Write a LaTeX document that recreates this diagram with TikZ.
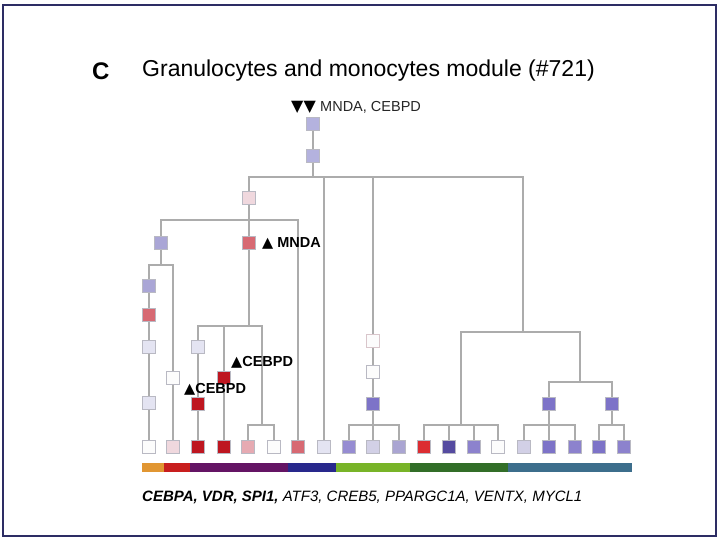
\documentclass[tikz,border=0pt]{standalone}
\usepackage{fontspec}
\setmainfont{Liberation Sans}
\newfontfamily\symf{DejaVu Sans}
\definecolor{edgegray}{RGB}{172,172,172}
\definecolor{nborder}{RGB}{185,185,195}
\definecolor{framec}{RGB}{45,45,100}
\definecolor{lavA}{RGB}{180,178,222}
\definecolor{lavB}{RGB}{170,166,214}
\definecolor{lavC}{RGB}{150,140,210}
\definecolor{lavD}{RGB}{125,115,200}
\definecolor{lavE}{RGB}{140,130,205}
\definecolor{lavF}{RGB}{210,208,230}
\definecolor{lavG}{RGB}{170,165,210}
\definecolor{slateN}{RGB}{85,75,160}
\definecolor{paleL}{RGB}{228,228,242}
\definecolor{paleP}{RGB}{240,216,222}
\definecolor{pinkR}{RGB}{215,105,115}
\definecolor{lightP}{RGB}{230,170,178}
\definecolor{darkR}{RGB}{190,22,32}
\definecolor{redN}{RGB}{220,45,50}
\definecolor{whiteN}{RGB}{252,252,252}
\definecolor{barO}{RGB}{225,150,50}
\definecolor{barR}{RGB}{200,30,30}
\definecolor{barP}{RGB}{100,20,100}
\definecolor{barN}{RGB}{40,40,140}
\definecolor{barG}{RGB}{120,180,40}
\definecolor{barDG}{RGB}{50,110,40}
\definecolor{barB}{RGB}{60,110,140}
\tikzset{
  sq/.style={draw=nborder, line width=0.8pt, minimum size=13pt, inner sep=0pt, fill=#1},
  edge/.style={draw=edgegray, line width=1.8pt},
  lab/.style={anchor=west, inner sep=0pt, font=\fontsize{14.5}{16}\selectfont\bfseries}
}
\begin{document}
\begin{tikzpicture}[x=1pt,y=-1pt]
\useasboundingbox (0,0) rectangle (720,540);
\fill[white] (0,0) rectangle (720,540);
\draw[framec, line width=2.5pt] (3,5) rectangle (716,536);

% title
\node[anchor=west, inner sep=0pt, font=\fontsize{24}{26}\selectfont\bfseries] (tc) at (92,71) {C};
\node[anchor=west, inner sep=0pt, font=\fontsize{23}{26}\selectfont] (tt) at (142,71) {Granulocytes and monocytes module (\#721)};

% internal nodes
\node[sq=lavA] (r0) at (313,124) {};
\node[sq=lavA] (r1) at (313,156) {};
\node[sq=paleP] (a) at (249,198) {};
\node[sq=lavB] (b) at (161,243) {};
\node[sq=pinkR] (m) at (249,243) {};
\node[sq=lavB] (b1) at (149,286) {};
\node[sq=pinkR] (b2) at (149,315) {};
\node[sq=paleL] (b3) at (149,347) {};
\node[sq=paleL] (b4) at (149,403) {};
\node[sq=whiteN] (c1) at (173,378) {};
\node[sq=paleL] (d1) at (198,347) {};
\node[sq=darkR] (d2) at (198,404) {};
\node[sq=darkR] (e1) at (224,378) {};
\node[sq=whiteN, draw=paleP!80!gray] (g1) at (373,341) {};
\node[sq=whiteN] (g2) at (373,372) {};
\node[sq=lavD] (g3) at (373,404) {};
\node[sq=lavD] (h1) at (549,404) {};
\node[sq=lavD] (h2) at (612,404) {};

% leaves
\foreach \n/\x/\c in {L1/149/whiteN, L2/173/paleP, L3/198/darkR, L4/224/darkR,
  L5/248/lightP, L6/274/whiteN, L7/298/pinkR, L8/324/paleL, L9/349/lavC,
  L10/373/lavF, L11/399/lavG, L12/424/redN, L13/449/slateN, L14/474/lavE,
  L15/498/whiteN, L16/524/lavF, L17/549/lavD, L18/575/lavE, L19/599/lavD, L20/624/lavE}
  \node[sq=\c] (\n) at (\x,447) {};

% junctions
\coordinate (J0) at (313,177);
\coordinate (J1) at (249,220);
\coordinate (J2) at (161,265);
\coordinate (J3) at (249,326);
\coordinate (J4) at (262,425);
\coordinate (J5) at (523,332);
\coordinate (J6) at (373,425);
\coordinate (J7) at (461,425);
\coordinate (J8) at (580,382);
\coordinate (J9) at (549,425);
\coordinate (J10) at (612,425);

% edges
\draw[edge] (r0) -- (r1);
\draw[edge] (r1) -- (J0);
\draw[edge] (J0) -| (a);
\draw[edge] (J0) -| (L8);
\draw[edge] (J0) -| (g1);
\draw[edge] (J0) -| (J5);
\draw[edge] (a) -- (J1);
\draw[edge] (J1) -| (b);
\draw[edge] (J1) -- (m);
\draw[edge] (J1) -| (L7);
\draw[edge] (b) -- (J2);
\draw[edge] (J2) -| (b1);
\draw[edge] (J2) -| (c1);
\draw[edge] (b1) -- (b2);
\draw[edge] (b2) -- (b3);
\draw[edge] (b3) -- (b4);
\draw[edge] (b4) -- (L1);
\draw[edge] (c1) -- (L2);
\draw[edge] (m) -- (J3);
\draw[edge] (J3) -| (d1);
\draw[edge] (J3) -| (e1);
\draw[edge] (J3) -| (J4);
\draw[edge] (d1) -- (d2);
\draw[edge] (d2) -- (L3);
\draw[edge] (e1) -- (L4);
\draw[edge] (J4) -| (L5);
\draw[edge] (J4) -| (L6);
\draw[edge] (g1) -- (g2);
\draw[edge] (g2) -- (g3);
\draw[edge] (g3) -- (J6);
\draw[edge] (J6) -| (L9);
\draw[edge] (J6) -- (L10);
\draw[edge] (J6) -| (L11);
\draw[edge] (J5) -| (J7);
\draw[edge] (J5) -| (J8);
\draw[edge] (J7) -| (L12);
\draw[edge] (J7) -| (L13);
\draw[edge] (J7) -| (L14);
\draw[edge] (J7) -| (L15);
\draw[edge] (J8) -| (h1);
\draw[edge] (J8) -| (h2);
\draw[edge] (h1) -- (J9);
\draw[edge] (J9) -| (L16);
\draw[edge] (J9) -- (L17);
\draw[edge] (J9) -| (L18);
\draw[edge] (h2) -- (J10);
\draw[edge] (J10) -| (L19);
\draw[edge] (J10) -| (L20);

% labels
\node[anchor=west, inner sep=0pt, font=\fontsize{16}{18}\selectfont\symf] (lt) at (291,107) {▼▼};
\node[anchor=west, inner sep=0pt, font=\fontsize{14.5}{16}\selectfont, text=black!85] (lt2) at (320,107) {MNDA, CEBPD};
\node[lab] (lm) at (262,243) {{\symf ▲} MNDA};
\node[lab] (lc1) at (231,362) {{\symf ▲}CEBPD};
\node[lab] (lc2) at (184,389) {{\symf ▲}CEBPD};

% colour bar
\fill[barO] (142,463) rectangle (164,472);
\fill[barR] (164,463) rectangle (190,472);
\fill[barP] (190,463) rectangle (288,472);
\fill[barN] (288,463) rectangle (336,472);
\fill[barG] (336,463) rectangle (410,472);
\fill[barDG] (410,463) rectangle (508,472);
\fill[barB] (508,463) rectangle (632,472);

% genes
\node[anchor=west, inner sep=0pt, font=\fontsize{15}{17}\selectfont\itshape] (genes) at (142,497)
  {\textbf{CEBPA, VDR, SPI1,} ATF3, CREB5, PPARGC1A, VENTX, MYCL1};
\end{tikzpicture}
\end{document}
